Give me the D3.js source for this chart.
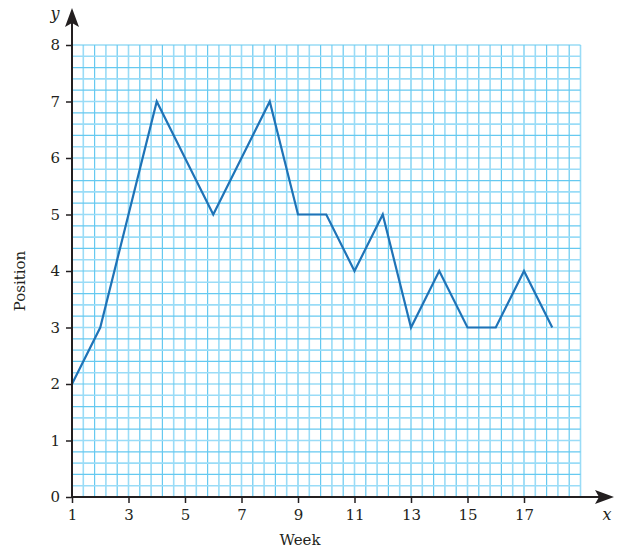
<!DOCTYPE html>
<html><head><meta charset="utf-8">
<script src="https://cdn.jsdelivr.net/npm/d3@7"></script>
<style>body{margin:0;background:#fff}</style>
</head><body>
<svg id="c" width="626" height="552"></svg>
<script>
const weeks = [1,2,3,4,5,6,7,8,9,10,11,12,13,14,15,16,17,18];
const positions = [2,3,5,7,6,5,6,7,5,5,4,5,3,4,3,3,4,3];
const xTickLabels = [1,3,5,7,9,11,13,15,17];
const yTickLabels = [0,1,2,3,4,5,6,7,8];

const svg = d3.select("#c");
const x = d3.scaleLinear().domain([1,19]).range([72,580.5]);
const y = d3.scaleLinear().domain([0,8]).range([497,45]);
const font = "'DejaVu Serif', 'Liberation Serif', serif";

// grid
const g = svg.append("g");
const xs = d3.range(0,46).map(i => 1 + i*0.4);
const ys = d3.range(0,41).map(i => i*0.2);
g.selectAll(".vx").data(xs).enter().append("line")
  .attr("x1", d=>x(d)).attr("x2", d=>x(d)).attr("y1", y(0)).attr("y2", y(8))
  .attr("stroke", (d,i)=> i%2 ? "#9adcf7" : "#66c9f0").attr("stroke-width", (d,i)=> i%2 ? 1.6 : 1.2);
g.selectAll(".hy").data(ys).enter().append("line")
  .attr("x1", x(1)).attr("x2", x(19)).attr("y1", d=>y(d)).attr("y2", d=>y(d))
  .attr("stroke", (d,i)=> i%2 ? "#9adcf7" : "#66c9f0").attr("stroke-width", (d,i)=> i%2 ? 1.6 : 1.2);

// data line
const line = d3.line().x((d,i)=>x(weeks[i])).y(d=>y(d));
svg.append("path").datum(positions).attr("d", line)
  .attr("fill","none").attr("stroke","#1f73b7").attr("stroke-width",2.2).attr("stroke-linejoin","miter");

// axes
const ax = "#231f20";
const xAxis = d3.axisBottom(x).tickValues(xTickLabels).tickSize(6).tickPadding(6).tickFormat(d3.format("d"));
const gx = svg.append("g").attr("transform", `translate(0,${y(0)})`).call(xAxis);
gx.select(".domain").remove();
gx.selectAll("line").attr("stroke", ax).attr("stroke-width", 1.5);
gx.selectAll("text").attr("font-family", font).attr("font-size", 15).attr("fill", ax);

const yAxis = d3.axisLeft(y).tickValues(yTickLabels).tickSize(6).tickPadding(6).tickFormat(d3.format("d"));
const gy = svg.append("g").attr("transform", `translate(${x(1)},0)`).call(yAxis);
gy.select(".domain").remove();
gy.selectAll("line").attr("stroke", ax).attr("stroke-width", 1.5);
gy.selectAll("text").attr("font-family", font).attr("font-size", 15).attr("fill", ax);

// axis lines with arrows
svg.append("line").attr("x1", x(1)).attr("x2", 600).attr("y1", y(0)).attr("y2", y(0)).attr("stroke", ax).attr("stroke-width", 2);
svg.append("line").attr("x1", x(1)).attr("x2", x(1)).attr("y1", y(0)).attr("y2", 22).attr("stroke", ax).attr("stroke-width", 2);
const X0 = x(1), Y0 = y(0);
svg.append("path").attr("d", `M${614},${Y0} L${595},${Y0-7} L${599},${Y0} L${595},${Y0+7} Z`).attr("fill", ax);
svg.append("path").attr("d", `M${X0},${8} L${X0-7},${27} L${X0},${23} L${X0+7},${27} Z`).attr("fill", ax);

svg.append("text").attr("x", 607).attr("y", 520).attr("text-anchor","middle").attr("font-family", font)
  .attr("font-style","italic").attr("font-size", 16).attr("fill", ax).text("x");
svg.append("text").attr("x", 55).attr("y", 19).attr("text-anchor","middle").attr("font-family", font)
  .attr("font-style","italic").attr("font-size", 16).attr("fill", ax).text("y");

svg.append("text").attr("x", 300).attr("y", 545).attr("text-anchor","middle").attr("font-family", font)
  .attr("font-size", 15).attr("fill", ax).text("Week");
svg.append("text").attr("transform","translate(25,281) rotate(-90)").attr("text-anchor","middle").attr("font-family", font)
  .attr("font-size", 15).attr("fill", ax).text("Position");
</script>
</body></html>
